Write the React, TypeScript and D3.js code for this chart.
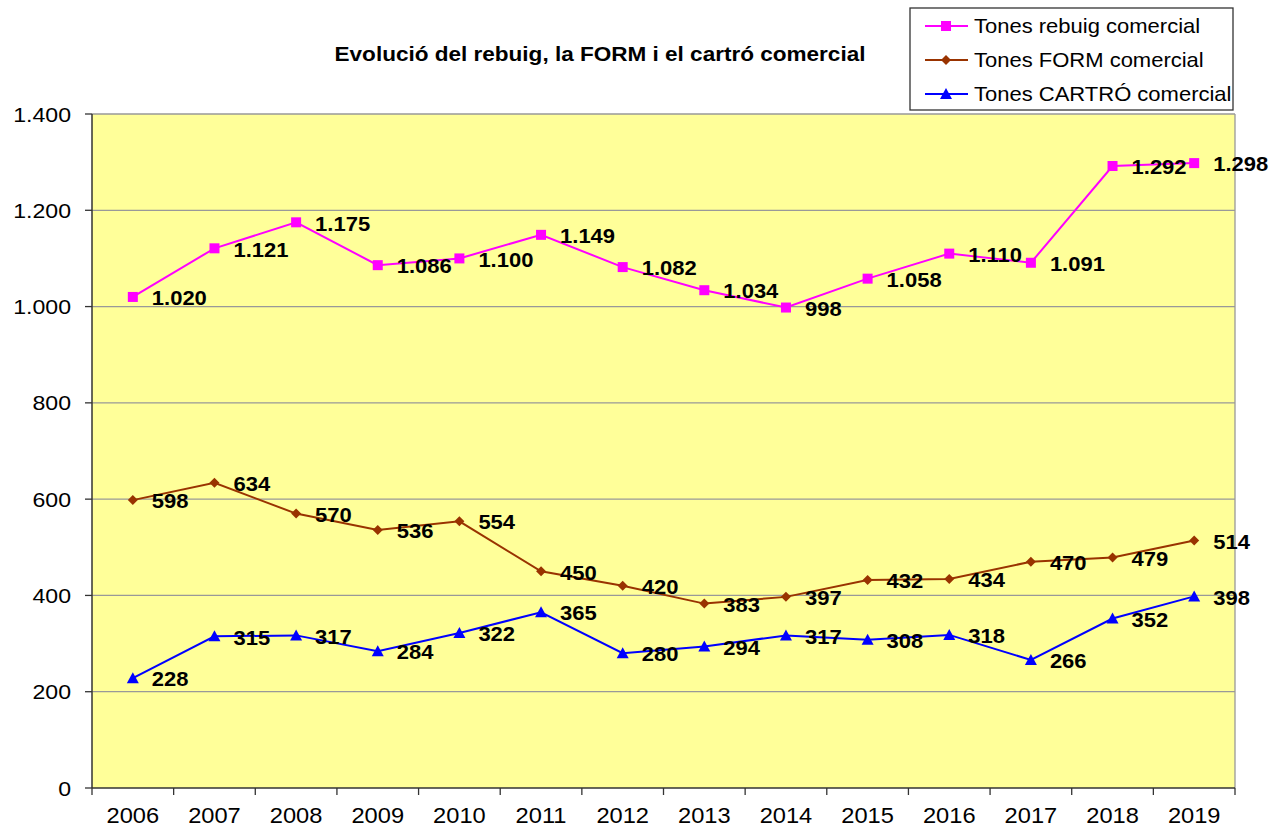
import React from "react";
import * as d3 from "d3";

const years = ["2006","2007","2008","2009","2010","2011","2012","2013","2014","2015","2016","2017","2018","2019"];
const rebuig = [1020,1121,1175,1086,1100,1149,1082,1034,998,1058,1110,1091,1292,1298];
const form = [598,634,570,536,554,450,420,383,397,432,434,470,479,514];
const cartro = [228,315,317,284,322,365,280,294,317,308,318,266,352,398];
const yTicks = [0,200,400,600,800,1000,1200,1400];
const seriesNames = ["Tones rebuig comercial","Tones FORM comercial","Tones CARTRÓ comercial"];

const fmt = (v: number) => {
  const s = String(v);
  return s.length > 3 ? s.slice(0, s.length - 3) + "." + s.slice(-3) : s;
};

const L = 92, R = 1235, T = 114, B = 788;
const SX = 1.1;

function T2(props: { x: number; y: number; anchor?: string; size: number; bold?: boolean; dy?: string; children: any }) {
  return (
    <text
      transform={`translate(${props.x},${props.y}) scale(${SX},1)`}
      dy={props.dy}
      textAnchor={props.anchor || "start"}
      fontSize={props.size}
      fontWeight={props.bold ? "bold" : "normal"}
      fill="#000"
    >
      {props.children}
    </text>
  );
}

export default function App() {
  const x = d3.scaleBand<string>().domain(years).range([L, R]);
  const y = d3.scaleLinear().domain([0, 1400]).range([B, T]);
  const cx = (i: number) => (x(years[i]) as number) + x.bandwidth() / 2;
  const line = d3.line<number>().x((_, i) => cx(i)).y((d) => y(d));
  const font = "Liberation Sans, Arial, sans-serif";

  const series = [
    { data: rebuig, color: "#FF00FF", marker: "square" },
    { data: form, color: "#993300", marker: "diamond" },
    { data: cartro, color: "#0000FF", marker: "triangle" },
  ];

  const marker = (type: string, px: number, py: number, color: string, key: any) => {
    if (type === "square") return <rect key={key} x={px - 5} y={py - 5} width={10} height={10} fill={color} />;
    if (type === "diamond") return <path key={key} d={`M${px},${py - 5}L${px + 5},${py}L${px},${py + 5}L${px - 5},${py}Z`} fill={color} />;
    return <path key={key} d={`M${px},${py - 6}L${px + 6},${py + 5}L${px - 6},${py + 5}Z`} fill={color} />;
  };

  return (
    <svg width={1278} height={829} style={{ position: "absolute", left: 0, top: 0 }} fontFamily={font}>
      <rect x={0} y={0} width={1278} height={829} fill="#fff" />
      <rect x={L} y={T} width={R - L} height={B - T} fill="#FFFF99" />
      {yTicks.map((t) => (
        <g key={t}>
          {t > 0 && <line x1={L} x2={R} y1={y(t)} y2={y(t)} stroke="#999" strokeWidth={1.3} />}
          <line x1={L - 7} x2={L} y1={y(t)} y2={y(t)} stroke="#333" strokeWidth={1.3} />
          <T2 x={71} y={y(t)} dy="0.36em" anchor="end" size={21}>{fmt(t)}</T2>
        </g>
      ))}
      <line x1={R} x2={R} y1={T} y2={B} stroke="#999" strokeWidth={1.3} />
      <line x1={L} x2={L} y1={T} y2={B} stroke="#333" strokeWidth={1.5} />
      <line x1={L} x2={R} y1={B} y2={B} stroke="#333" strokeWidth={1.5} />
      {years.map((yr, i) => (
        <g key={yr}>
          <line x1={x(yr) as number} x2={x(yr) as number} y1={B} y2={B + 7} stroke="#333" strokeWidth={1.3} />
          <T2 x={cx(i)} y={823} anchor="middle" size={21.5}>{yr}</T2>
        </g>
      ))}
      <line x1={R} x2={R} y1={B} y2={B + 7} stroke="#333" strokeWidth={1.3} />
      {series.map((s, si) => (
        <g key={si}>
          <path d={line(s.data) as string} fill="none" stroke={s.color} strokeWidth={2} />
          {s.data.map((v, i) => marker(s.marker, cx(i), y(v), s.color, i))}
        </g>
      ))}
      {series.map((s, si) => (
        <g key={"l" + si}>
          {s.data.map((v, i) => (
            <T2 key={i} x={cx(i) + 19} y={y(v) + 1} dy="0.36em" size={20} bold>{fmt(v)}</T2>
          ))}
        </g>
      ))}
      <T2 x={600} y={61} anchor="middle" size={20.5} bold>Evolució del rebuig, la FORM i el cartró comercial</T2>
      <rect x={910} y={8} width={323} height={102} fill="#fff" stroke="#333" strokeWidth={1.3} />
      {series.map((s, si) => {
        const ly = 26 + si * 34;
        return (
          <g key={"lg" + si}>
            <line x1={925} x2={968} y1={ly} y2={ly} stroke={s.color} strokeWidth={2} />
            {marker(s.marker, 946, ly, s.color, "m")}
            <T2 x={974} y={ly} dy="0.36em" size={20}>{seriesNames[si]}</T2>
          </g>
        );
      })}
    </svg>
  );
}
